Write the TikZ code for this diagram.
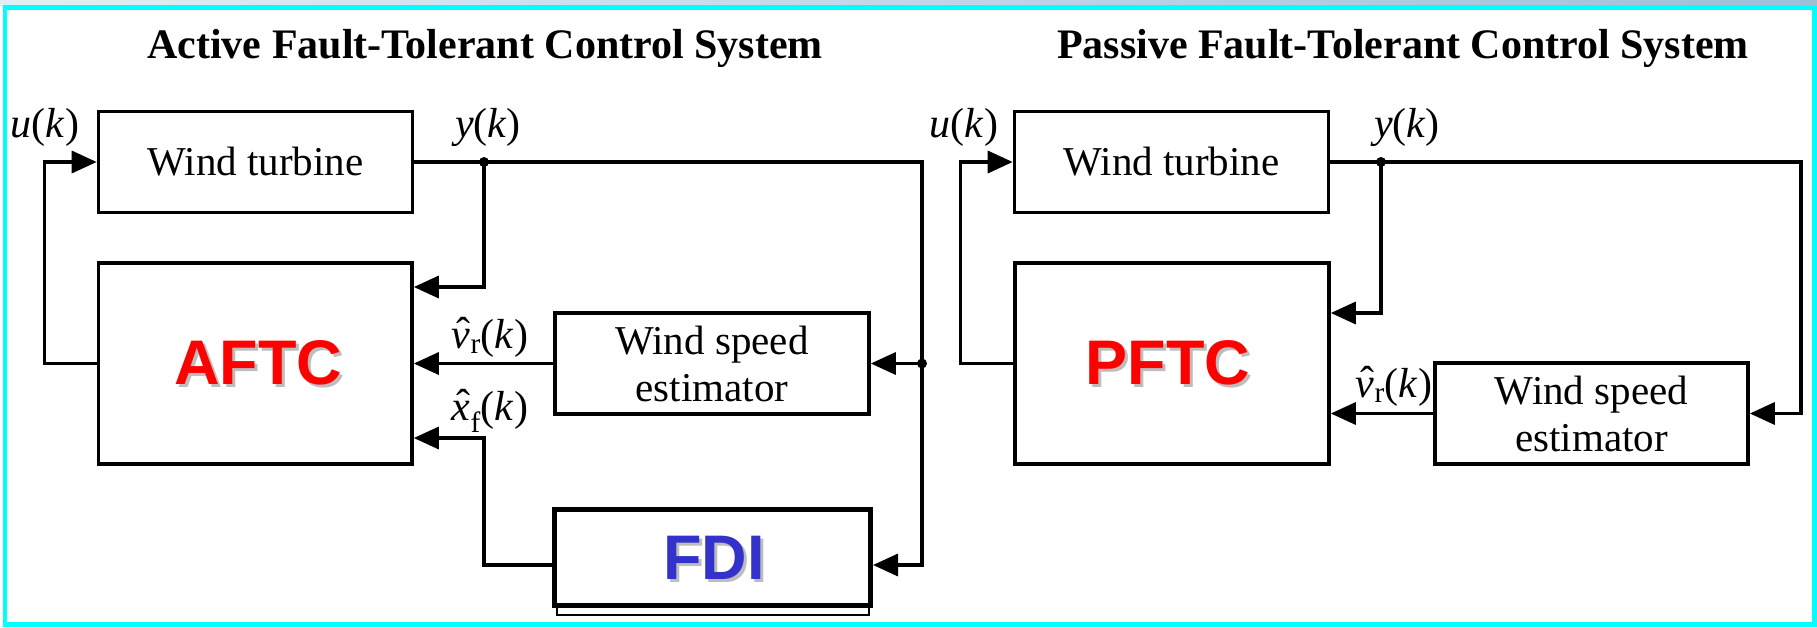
\documentclass[tikz,border=0pt]{standalone}
\usepackage{fontspec}
\setmainfont{Liberation Serif}
\newfontfamily\arialf{Liberation Sans}
\usetikzlibrary{arrows.meta}
\definecolor{bigred}{HTML}{FF0000}
\definecolor{fdiblue}{HTML}{3333CC}
\definecolor{shadowgray}{HTML}{BDBDBD}
\definecolor{framecyan}{HTML}{00FFFF}
\definecolor{barleft}{HTML}{E2EEF5}
\definecolor{barright}{HTML}{9EBFD8}
\newcommand{\hatit}[1]{\setbox0=\hbox{\itshape #1}\rlap{\hbox to\wd0{\hss\kern0.12em\raisebox{0.04em}{\char"02C6}\hss}}\box0}
\begin{document}
\begin{tikzpicture}[x=1pt,y=-1pt,
  blk/.style={draw, line width=3.6pt, fill=white, inner sep=0pt, align=center,
    font=\fontsize{41}{47}\selectfont},
  wire/.style={line width=3.4pt},
  arr/.style={wire, -{Triangle[length=25pt,width=22pt]}},
  lbl/.style={anchor=base, inner sep=0pt, font=\fontsize{42}{45}\selectfont},
  ttl/.style={anchor=base, inner sep=0pt, font=\fontsize{42}{46}\selectfont\bfseries},
  big/.style={inner sep=0pt, font=\arialf\bfseries\fontsize{63}{70}\selectfont},
  shade/.style={big, text=shadowgray}]
\useasboundingbox (0,0) rectangle (1817,627);
\fill[white] (0,0) rectangle (1817,627);
\shade[left color=barleft, right color=barright] (0,0) rectangle (1817,6);
\draw[framecyan, line width=4.5pt] (5,7.5) rectangle (1814.5,624.5);

% titles
\node[ttl] (t1) at (485,58) {Active Fault-Tolerant Control System};
\node[ttl] (t2) at (1403,58) {Passive Fault-Tolerant Control System};

% ---------- Active system ----------
\node[blk, minimum width=314pt, minimum height=101pt] (wt1) at (255.5,162) {Wind turbine};
\node[blk, minimum width=313.5pt, minimum height=201pt] (ab1) at (255.25,363.5) {};
\node[blk, minimum width=314pt, minimum height=101pt] (wse1) at (712,363.5) {Wind speed\\estimator};
\draw[line width=2pt, fill=white] (557,520) rectangle (869,615);
\node[blk, line width=5pt, minimum width=316pt, minimum height=96pt] (fdi) at (712.5,557.5) {};

\node[shade] (aftcs) at (261,366) {AFTC};
\node[big, text=bigred] (aftc) at (258,363) {AFTC};
\node[shade] (fdis) at (717,561) {FDI};
\node[big, text=fdiblue] (fditext) at (714,558) {FDI};

\coordinate (j1) at (484,162);
\coordinate (j2) at (922,363.5);
\draw[arr] (ab1.west) -- ++(-52.5,0) |- (wt1.west);
\draw[wire] (wt1.east) -| (j2);
\draw[arr] (j2) |- ([yshift=-7.5pt]fdi.east);
\draw[arr] (j2) -- (wse1.east);
\draw[arr] (j1) |- ([yshift=76.5pt]ab1.east);
\draw[arr] (wse1.west) -- (ab1.east);
\draw[arr] ([yshift=-7.5pt]fdi.west) -| (484,438) -- ([yshift=-74.5pt]ab1.east);
\fill (j1) circle (5pt);
\fill (j2) circle (5pt);

\node[lbl] (u1) at (45,137) {\textit{u}(\textit{k})};
\node[lbl] (y1) at (488,137) {\textit{y}(\textit{k})};
\node[lbl] (vr1) at (490,348) {\hatit{v}\textsubscript{r}(\textit{k})};
\node[lbl] (xf1) at (490,420) {\hatit{x}\textsubscript{f}(\textit{k})};

% ---------- Passive system ----------
\node[blk, minimum width=314pt, minimum height=101pt] (wt2) at (1171.5,162) {Wind turbine};
\node[blk, minimum width=314pt, minimum height=201pt] (pb) at (1172,363.5) {};
\node[blk, minimum width=313pt, minimum height=101pt] (wse2) at (1591.5,413.5) {Wind speed\\estimator};

\node[shade] (pftcs) at (1171,366) {PFTC};
\node[big, text=bigred] (pftc) at (1168,363) {PFTC};

\coordinate (j3) at (1381,162);
\draw[arr] (pb.west) -- ++(-53,0) |- (wt2.west);
\draw[arr] (wt2.east) -- (1801,162) |- (wse2.east);
\draw[arr] (j3) |- ([yshift=50.5pt]pb.east);
\draw[arr] (wse2.west) -- (pb.east |- wse2.west);
\fill (j3) circle (5pt);

\node[lbl] (u2) at (964,137) {\textit{u}(\textit{k})};
\node[lbl] (y2) at (1407,137) {\textit{y}(\textit{k})};
\node[lbl] (vr2) at (1394,397) {\hatit{v}\textsubscript{r}(\textit{k})};
\end{tikzpicture}
\end{document}
